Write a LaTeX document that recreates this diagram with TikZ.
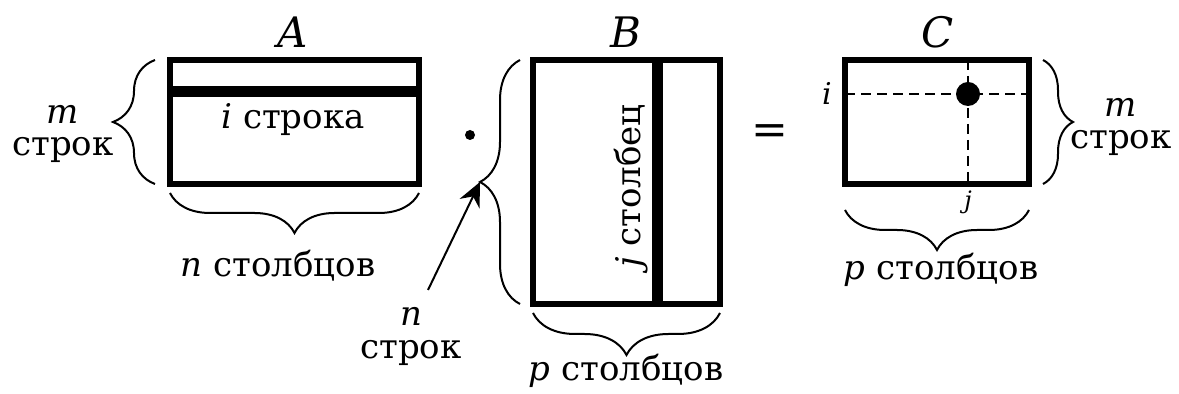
\documentclass[tikz,border=0pt]{standalone}
\usepackage{fontspec}
\setmainfont{DejaVu Serif}
\usetikzlibrary{positioning, calc, arrows.meta, decorations.pathreplacing}
\tikzset{
    mat/.style={
        rectangle,
        draw=black,
        line width=3pt,
        inner sep=0pt,
        outer sep=0pt,
    },
    brc/.style={
        decorate,
        decoration={brace, amplitude=#1},
        line width=1pt,
    },
    brc/.default=20pt,
    lbl/.style={
        inner sep=0pt,
        align=center,
        font=\fontsize{17pt}{16pt}\selectfont,
    },
    small/.style={
        inner sep=0pt,
        font=\fontsize{#1}{#1}\selectfont\itshape,
    },
}

\begin{document}
\begin{tikzpicture}[x=0.5pt, y=-0.5pt]
      \useasboundingbox (0,0) rectangle (1179,394);

      % the three matrices
      \node[mat, minimum width=124.5pt, minimum height=62pt] (A) at (294.5,122) {};
      \node[mat, minimum width=93.5pt, minimum height=122pt] (B) at (626.5,182) {};
      \node[mat, minimum width=92pt, minimum height=62pt] (C) at (937,122) {};

      \node[small=21pt] (nameA) at (293,32) {A};
      \node[small=21pt] (nameB) at (626,32) {B};
      \node[small=21pt] (nameC) at (938,32) {C};

      % row i of A
      \draw[line width=5.5pt] ([yshift=-15.75pt]A.north west) -- ([yshift=-15.75pt]A.north east);
      \node[lbl] (rowA) at (293,120) {\textit{i} строка};

      % column j of B
      \draw[line width=5.5pt] ([xshift=62.25pt]B.north west) -- ([xshift=62.25pt,yshift=-1.5pt]B.south west);
      \node[lbl, rotate=90] (colB) at (631,186) {\textit{j} столбец};

      % element of C
      \draw[line width=1pt, dash pattern=on 5pt off 3pt] ([yshift=-17pt]C.north west) -- ([yshift=-17pt]C.north east);
      \draw[line width=1pt, dash pattern=on 5pt off 3pt] ([xshift=61.5pt]C.north west) -- ([xshift=61.5pt]C.south west);
      \coordinate (cij) at ([xshift=61.5pt,yshift=-17pt]C.north west);
      \fill (cij) circle[radius=6pt];
      \node[small=15pt] (iC) at (827,93) {i};
      \node[small=12pt] (jC) at (968,202) {j};

      % signs
      \node[circle, fill, inner sep=0pt, minimum size=5pt] (dot) at (470,135) {};
      \node[lbl, font=\fontsize{22pt}{22pt}\selectfont] (eq) at (770,135) {=};

      % braces
      \draw[brc=21pt] ([xshift=-7.5pt]A.south west) -- ([xshift=-7.5pt]A.north west);
      \draw[brc=20pt] ([yshift=-4.5pt]A.south east) -- ([yshift=-4.5pt]A.south west);
      \draw[brc=20pt] ([xshift=-6.5pt]B.south west) -- ([xshift=-6.5pt]B.north west);
      \draw[brc=21pt] ([yshift=-4.5pt]B.south east) -- ([yshift=-4.5pt]B.south west);
      \draw[brc=15pt] ([xshift=7pt]C.north east) -- ([xshift=7pt]C.south east);
      \draw[brc=20pt] ([yshift=-13pt]C.south east) -- ([yshift=-13pt]C.south west);

      \node[lbl] (rowsA) at (63,134) {\textit{m}\\строк};
      \node[lbl] (colsA) at (278,266) {\textit{n} столбцов};
      \node[lbl, font=\fontsize{17pt}{16.5pt}\selectfont] (rowsB) at (411,336) {\textit{n}\\строк};
      \node[lbl] (colsB) at (626,371) {\textit{p} столбцов};
      \node[lbl] (rowsC) at (1121,127) {\textit{m}\\строк};
      \node[lbl] (colsC) at (941,270) {\textit{p} столбцов};

      % arrow to the brace of B
      \coordinate (tipB) at ([xshift=-26.5pt]B.west);
      \coordinate (tail) at (428,290);
      \draw[line width=1pt, -{Stealth[length=12pt, width=11pt, inset=4pt]}] (tail) -- (tipB);
\end{tikzpicture}
\end{document}
